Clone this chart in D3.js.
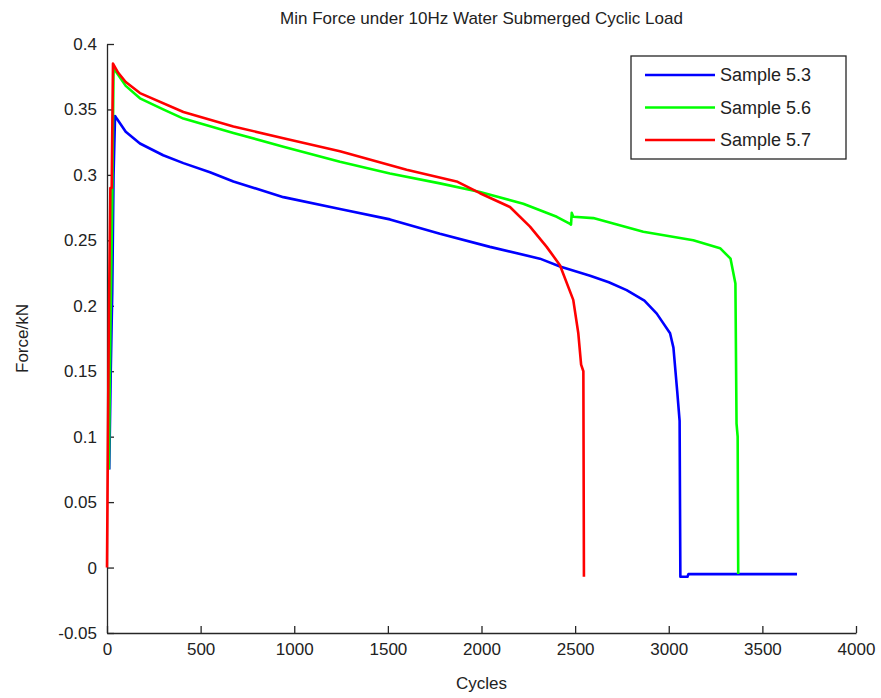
<!DOCTYPE html>
<html>
<head>
<meta charset="utf-8">
<script src="https://cdn.jsdelivr.net/npm/d3@7"></script>
<style>
 body { margin:0; background:#fff; }
 text { font-family: "Liberation Sans", Arial, sans-serif; fill:#222; }
</style>
</head>
<body>
<svg width="881" height="698"></svg>
<script>
// Data: [cycles, force kN]

var sample53 = [[12,0.075],[20,0.15],[28,0.21],[35,0.3],[43,0.345],[52,0.343],[100,0.333],[176,0.324],[300,0.315],
 [408,0.309],[550,0.302],[675,0.295],[942,0.283],[1244,0.274],[1511,0.266],[1778,0.255],[2045,0.245],[2312,0.236],
 [2419,0.23],[2580,0.223],[2680,0.218],[2775,0.212],[2870,0.204],[2936,0.194],[3007,0.179],[3025,0.168],[3045,0.135],
 [3058,0.112],[3062,-0.007],[3100,-0.007],[3105,-0.005],[3685,-0.005]];
var sample56 = [[10,0.075],[18,0.18],[28,0.28],[35,0.382],[52,0.378],[100,0.368],[176,0.3585],[300,0.35],[408,0.343],
 [675,0.332],[942,0.3215],[1244,0.31],[1511,0.301],[1778,0.2935],[1992,0.287],[2223,0.278],[2402,0.268],[2473,0.2625],
 [2478,0.262],[2482,0.271],[2490,0.268],[2597,0.267],[2864,0.2565],[3131,0.25],[3274,0.244],[3330,0.236],[3356,0.217],
 [3362,0.11],[3368,0.1],[3371,-0.005]];
var sample57 = [[0,0],[5,0.1],[10,0.19],[18,0.29],[25,0.29],[32,0.385],[60,0.378],[100,0.371],[176,0.3625],[408,0.348],
 [675,0.337],[942,0.328],[1244,0.318],[1600,0.304],[1867,0.295],[1992,0.286],[2152,0.2755],[2259,0.2605],[2348,0.245],
 [2419,0.231],[2490,0.2045],[2517,0.179],[2532,0.155],[2544,0.15],[2547,-0.007]];

var names = ['Sample 5.3', 'Sample 5.6', 'Sample 5.7'];
var colors = ['#0000ff', '#00ff00', '#ff0000'];
var xTicks = [0,500,1000,1500,2000,2500,3000,3500,4000];
var yTicks = [-0.05,0,0.05,0.1,0.15,0.2,0.25,0.3,0.35,0.4];

var svg = d3.select('svg');
var margin = {top:44, right:25, bottom:65, left:107};
var width = svg.attr('width') - margin.left - margin.right;
var height = svg.attr('height') - margin.top - margin.bottom;
var graphic = svg.append('g').attr('transform', 'translate(' + margin.left + ',' + margin.top + ')');

var x = d3.scaleLinear().domain([0, 4000]).range([0, width]);
var y = d3.scaleLinear().domain([-0.05, 0.4]).range([height, 0]);

// Axes, ticks pointing inward like matlab

function styleAxis(g) {
 g.select('.domain').attr('stroke', '#262626').attr('stroke-width', 1.3);
 g.selectAll('.tick line').attr('stroke', '#262626').attr('stroke-width', 1.3);
 g.selectAll('text').attr('font-size', 17).attr('fill', '#222').attr('font-family', '"Liberation Sans", Arial, sans-serif');
}

graphic.append('g')
 .attr('transform', 'translate(0,' + height + ')')
 .call(d3.axisBottom(x).tickValues(xTicks).tickFormat(d3.format('d')).tickSize(-7).tickSizeOuter(0).tickPadding(10))
 .call(styleAxis);

graphic.append('g')
 .call(d3.axisLeft(y).tickValues(yTicks).tickFormat(function(d) { return String(+d.toFixed(2)); }).tickSize(-7).tickSizeOuter(0).tickPadding(10))
 .call(styleAxis);

// Lines

var line = d3.line().x(function(d) { return x(d[0]); }).y(function(d) { return y(d[1]); });
var series = [sample53, sample56, sample57];

graphic.append('g')
 .selectAll('path')
 .data(series)
 .enter().append('path')
 .attr('d', line)
 .attr('fill', 'none')
 .attr('stroke', function(d, i) { return colors[i]; })
 .attr('stroke-width', 2.6)
 .attr('stroke-linejoin', 'round');

// Title and labels

svg.append('text')
 .attr('x', margin.left + width / 2).attr('y', 24)
 .attr('text-anchor', 'middle').attr('font-size', 17)
 .text('Min Force under 10Hz Water Submerged Cyclic Load');

svg.append('text')
 .attr('x', margin.left + width / 2).attr('y', 689)
 .attr('text-anchor', 'middle').attr('font-size', 17)
 .text('Cycles');

svg.append('text')
 .attr('transform', 'translate(28,' + (margin.top + height / 2) + ') rotate(-90)')
 .attr('text-anchor', 'middle').attr('font-size', 17)
 .text('Force/kN');

// Legend

var legend = svg.append('g').attr('transform', 'translate(631,56)');
legend.append('rect')
 .attr('width', 215).attr('height', 103)
 .attr('fill', '#fff').attr('stroke', '#262626').attr('stroke-width', 1.3);

var item = legend.selectAll('g.item')
 .data(names)
 .enter().append('g')
 .attr('class', 'item')
 .attr('transform', function(d, i) { return 'translate(0,' + (19 + i * 32.5) + ')'; });

item.append('line')
 .attr('x1', 14).attr('x2', 84)
 .attr('stroke', function(d, i) { return colors[i]; })
 .attr('stroke-width', 2.6);

item.append('text')
 .attr('x', 89).attr('dy', '0.35em').attr('font-size', 18)
 .text(function(d) { return d; });
</script>
</body>
</html>
